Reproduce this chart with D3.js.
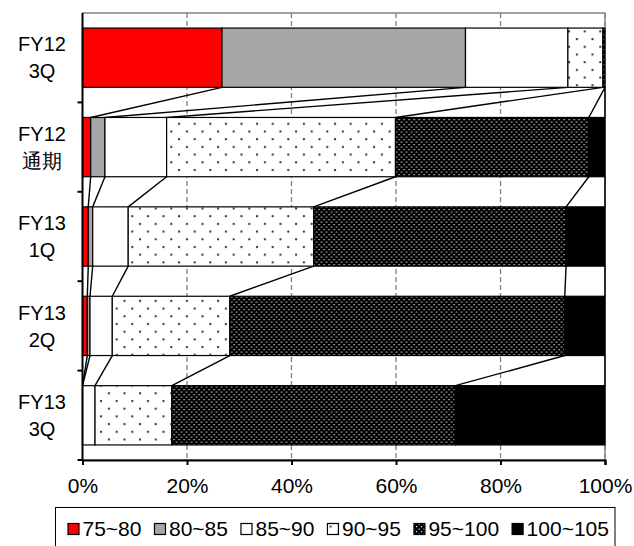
<!DOCTYPE html>
<html>
<head>
<meta charset="utf-8">
<script src="https://cdn.jsdelivr.net/npm/d3@7/dist/d3.min.js"></script>
<style>
  html, body { margin: 0; padding: 0; background: #fff; }
  svg { display: block; }
  text { font-family: "Liberation Sans", Arial, sans-serif; fill: #000; }
</style>
</head>
<body>
<svg id="chart" width="634" height="546"></svg>
<script>
// Row labels (two lines each), top row first
const categories = ["FY12\n3Q", "FY12\n通期", "FY13\n1Q", "FY13\n2Q", "FY13\n3Q"];
const seriesNames = ["75~80", "80~85", "85~90", "90~95", "95~100", "100~105"];

// Share of each band per row, in percent
const s75_80   = [26.7, 1.57, 1.10, 0.92, 0.00];
const s80_85   = [46.6, 2.73, 0.85, 0.52, 0.00];
const s85_90   = [19.6, 11.8, 6.80, 4.26, 2.40];
const s90_95   = [6.70, 43.8, 35.5, 22.5, 14.7];
const s95_100  = [0.40, 37.0, 48.3, 64.1, 54.25];
const s100_105 = [0.00, 3.10, 7.45, 7.70, 28.65];

const xTicks = [0, 20, 40, 60, 80, 100];
const xTickLabels = ["0%", "20%", "40%", "60%", "80%", "100%"];

const seriesValues = [s75_80, s80_85, s85_90, s90_95, s95_100, s100_105];

const svg = d3.select("#chart");
const margin = { left: 82.5, right: 29, top: 13, bottom: 86 };
const W = 634, H = 546;
const plotW = W - margin.left - margin.right;
const plotH = H - margin.top - margin.bottom;

// Fill patterns
const defs = svg.append("defs");
const sparse = defs.append("pattern").attr("id", "dotsSparse")
  .attr("patternUnits", "userSpaceOnUse").attr("width", 15.6).attr("height", 15.4);
sparse.append("rect").attr("width", 15.6).attr("height", 15.4).attr("fill", "#fff");
sparse.append("rect").attr("x", 2).attr("y", 2).attr("width", 2).attr("height", 2).attr("fill", "#333");
sparse.append("rect").attr("x", 9.8).attr("y", 9.7).attr("width", 2).attr("height", 2).attr("fill", "#333");

const dense = defs.append("pattern").attr("id", "dotsDense")
  .attr("patternUnits", "userSpaceOnUse").attr("width", 5).attr("height", 5);
dense.append("rect").attr("width", 5).attr("height", 5).attr("fill", "#000");
dense.append("rect").attr("x", 1).attr("y", 1).attr("width", 1.2).attr("height", 1.2).attr("fill", "#f0f0f0");
dense.append("rect").attr("x", 3.5).attr("y", 3.5).attr("width", 1.2).attr("height", 1.2).attr("fill", "#f0f0f0");

const fills = ["#ff0000", "#a6a6a6", "#ffffff", "url(#dotsSparse)", "url(#dotsDense)", "#000000"];

// Table for the stack layout
const rows = categories.map((c, i) => {
  const r = { cat: c };
  seriesNames.forEach((s, k) => { r[s] = seriesValues[k][i]; });
  return r;
});
const stacked = d3.stack().keys(seriesNames)(rows);

const x = d3.scaleLinear().domain([0, 100]).range([0, plotW]);
const band = d3.scaleBand().domain(categories).range([0, plotH]).paddingInner(0.337).paddingOuter(0.1685);
const rowScale = d3.scaleBand().domain(categories).range([0, plotH]);

const g = svg.append("g").attr("transform", `translate(${margin.left},${margin.top})`);

// Plot frame
g.append("rect").attr("x", 0).attr("y", 0).attr("width", plotW).attr("height", plotH)
  .attr("fill", "none").attr("stroke", "#444").attr("stroke-width", 1);

// Vertical dashed gridlines
g.append("g").selectAll("line").data(xTicks.slice(1)).join("line")
  .attr("x1", d => x(d)).attr("x2", d => x(d))
  .attr("y1", 0).attr("y2", plotH)
  .attr("stroke", "#888").attr("stroke-width", 1.4)
  .attr("stroke-dasharray", "5,3");

// Connector lines between cumulative boundaries of neighbouring rows
const conn = g.append("g");
for (let i = 0; i < categories.length - 1; i++) {
  const yA = band(categories[i]) + band.bandwidth();
  const yB = band(categories[i + 1]);
  stacked.forEach(layer => {
    conn.append("line")
      .attr("x1", x(layer[i][1])).attr("y1", yA)
      .attr("x2", x(layer[i + 1][1])).attr("y2", yB)
      .attr("stroke", "#000").attr("stroke-width", 1.4);
  });
}

// Bars
g.append("g").selectAll("g").data(stacked).join("g")
  .attr("fill", (d, k) => fills[k])
  .selectAll("rect").data(d => d).join("rect")
  .attr("x", d => x(d[0]))
  .attr("y", d => band(d.data.cat))
  .attr("width", d => x(d[1]) - x(d[0]))
  .attr("height", band.bandwidth())
  .attr("stroke", "#000").attr("stroke-width", 1.2);

// Axes
const xAxis = g.append("g").attr("transform", `translate(0,${plotH})`)
  .call(d3.axisBottom(x).tickValues(xTicks).tickFormat((d, i) => xTickLabels[i]).tickSize(5).tickPadding(13));
xAxis.select(".domain").attr("stroke", "#000").attr("stroke-width", 2);
xAxis.selectAll(".tick line").attr("stroke", "#000").attr("stroke-width", 2);
xAxis.selectAll(".tick text").attr("font-size", 21).attr("font-family", "Liberation Sans, Arial, sans-serif");

// Left axis with ticks at row boundaries
const yAxisG = g.append("g");
yAxisG.append("line").attr("x1", 0).attr("x2", 0).attr("y1", 0).attr("y2", plotH)
  .attr("stroke", "#000").attr("stroke-width", 2);
yAxisG.selectAll("line.tk").data(categories).join("line")
  .attr("class", "tk")
  .attr("x1", -5).attr("x2", 0)
  .attr("y1", (d, i) => (i + 1) * rowScale.step())
  .attr("y2", (d, i) => (i + 1) * rowScale.step())
  .attr("stroke", "#000").attr("stroke-width", 2);

// Row labels
categories.forEach(c => {
  const cy = rowScale(c) + rowScale.bandwidth() / 2;
  const lines = c.split("\n");
  const t = g.append("text").attr("text-anchor", "middle")
    .attr("font-size", 20)
    .attr("font-family", "Liberation Sans, 'Noto Sans CJK JP', Arial, sans-serif");
  lines.forEach((ln, j) => {
    t.append("tspan").attr("x", -40.5)
      .attr("y", cy + (j === 0 ? -13.5 : 13.5) + 7.2)
      .text(ln);
  });
});

// Legend
const lg = svg.append("g");
lg.append("rect").attr("x", 55.5).attr("y", 507.5).attr("width", 559.5).attr("height", 60)
  .attr("fill", "#fff").attr("stroke", "#000").attr("stroke-width", 1);
let lx = 68;
seriesNames.forEach((s, k) => {
  lg.append("rect").attr("x", lx).attr("y", 523.5).attr("width", 11).attr("height", 11)
    .attr("fill", fills[k]).attr("stroke", "#000").attr("stroke-width", 1.2);
  const t = lg.append("text").attr("x", lx + 14.5).attr("y", 535.5)
    .attr("font-size", 21).text(s);
  lx = lx + 14.5 + t.node().getComputedTextLength() + 13;
});
</script>
</body>
</html>
